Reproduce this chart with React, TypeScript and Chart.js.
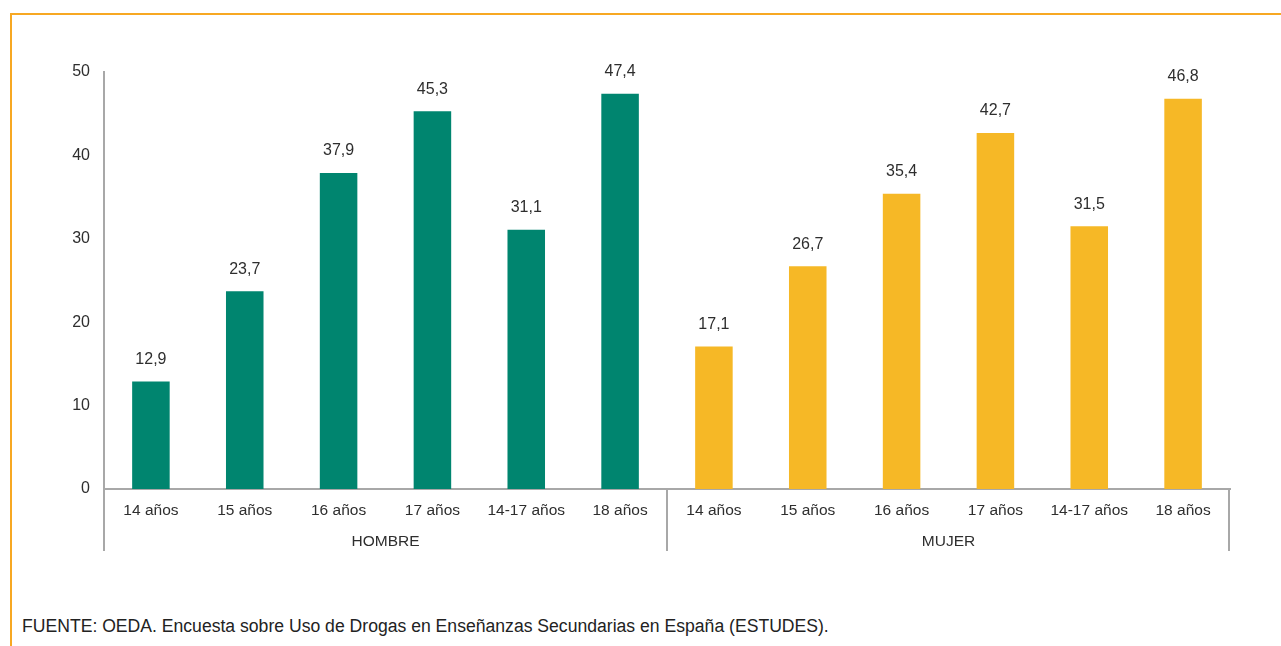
import React, { useEffect, useRef } from "react";
import { Chart, registerables } from "chart.js";

Chart.register(...registerables);

const categories = [
  "14 años", "15 años", "16 años", "17 años", "14-17 años", "18 años",
  "14 años", "15 años", "16 años", "17 años", "14-17 años", "18 años",
];
const groups = ["HOMBRE", "MUJER"];
const groupSize = 6;
const values = [12.9, 23.7, 37.9, 45.3, 31.1, 47.4, 17.1, 26.7, 35.4, 42.7, 31.5, 46.8];
const yTicks = [0, 10, 20, 30, 40, 50];
const groupColors = ["#00856F", "#F6B826"];

const FONT = "'Liberation Sans', Arial, Helvetica, sans-serif";
const TEXT = "#2e2e2e";
const AXIS = "#a8a8a8";

const annotatePlugin = {
  id: "annotate",
  afterDraw(chart: any) {
    const ctx = chart.ctx;
    const x = chart.scales.x;
    const y = chart.scales.y;
    const meta = chart.getDatasetMeta(0);
    ctx.save();
    ctx.font = `16px ${FONT}`;
    ctx.fillStyle = TEXT;
    ctx.textAlign = "center";
    ctx.textBaseline = "middle";
    meta.data.forEach((bar: any, i: number) => {
      ctx.fillText(values[i].toFixed(1).replace(".", ","), bar.x, bar.y - 22);
    });
    const half = (x.getPixelForValue(1) - x.getPixelForValue(0)) / 2;
    const bottom = y.bottom;
    ctx.strokeStyle = AXIS;
    ctx.lineWidth = 2;
    for (let g = 0; g <= groups.length; g++) {
      let px: number;
      if (g === 0) px = x.left;
      else if (g === groups.length) px = x.right - 1;
      else px = x.getPixelForValue(g * groupSize) - half;
      ctx.beginPath();
      ctx.moveTo(px, bottom);
      ctx.lineTo(px, bottom + 62);
      ctx.stroke();
    }
    ctx.font = `15.5px ${FONT}`;
    groups.forEach((name, g) => {
      const a = x.getPixelForValue(g * groupSize);
      const b = x.getPixelForValue(g * groupSize + groupSize - 1);
      ctx.fillText(name, (a + b) / 2, bottom + 53);
    });
    ctx.restore();
  },
};

export default function App() {
  const ref = useRef<HTMLCanvasElement | null>(null);
  useEffect(() => {
    if (!ref.current) return;
    const chart = new Chart(ref.current, {
      type: "bar",
      data: {
        labels: categories,
        datasets: [
          {
            data: values,
            backgroundColor: values.map((_, i) => groupColors[Math.floor(i / groupSize)]),
            barPercentage: 0.4,
            categoryPercentage: 1,
          },
        ],
      },
      options: {
        animation: false,
        responsive: false,
        maintainAspectRatio: false,
        layout: { padding: { left: 0, right: 51, top: 72, bottom: 0 } },
        plugins: { legend: { display: false }, tooltip: { enabled: false } },
        scales: {
          x: {
            grid: { display: false, drawTicks: false },
            border: { display: true, color: AXIS, width: 2 },
            ticks: { color: TEXT, font: { family: FONT, size: 15.5 }, padding: 12, maxRotation: 0, autoSkip: false },
            afterFit: (s: any) => { s.height = 111; },
          },
          y: {
            min: 0,
            max: 50,
            afterBuildTicks: (s: any) => { s.ticks = yTicks.map((v) => ({ value: v })); },
            grid: { display: false, drawTicks: false },
            border: { display: true, color: AXIS, width: 2 },
            ticks: { color: TEXT, font: { family: FONT, size: 16 }, padding: 14 },
            afterFit: (s: any) => { s.width = 104; },
          },
        },
      },
      plugins: [annotatePlugin],
    });
    return () => chart.destroy();
  }, []);

  return (
    <div style={{ position: "absolute", left: 0, top: 0, width: 1281, height: 646, background: "#fff", overflow: "hidden" }}>
      <div style={{ position: "absolute", left: 10, top: 13, right: 0, bottom: 0, borderTop: "2px solid #F7A823", borderLeft: "2px solid #F7A823" }} />
      <canvas ref={ref} width={1281} height={600} style={{ position: "absolute", left: 0, top: 0, width: 1281, height: 600 }} />
      <div style={{ position: "absolute", left: 22, top: 616, fontFamily: FONT, fontSize: 17.6, color: "#222", whiteSpace: "nowrap" }}>
        FUENTE: OEDA. Encuesta sobre Uso de Drogas en Enseñanzas Secundarias en España (ESTUDES).
      </div>
    </div>
  );
}
